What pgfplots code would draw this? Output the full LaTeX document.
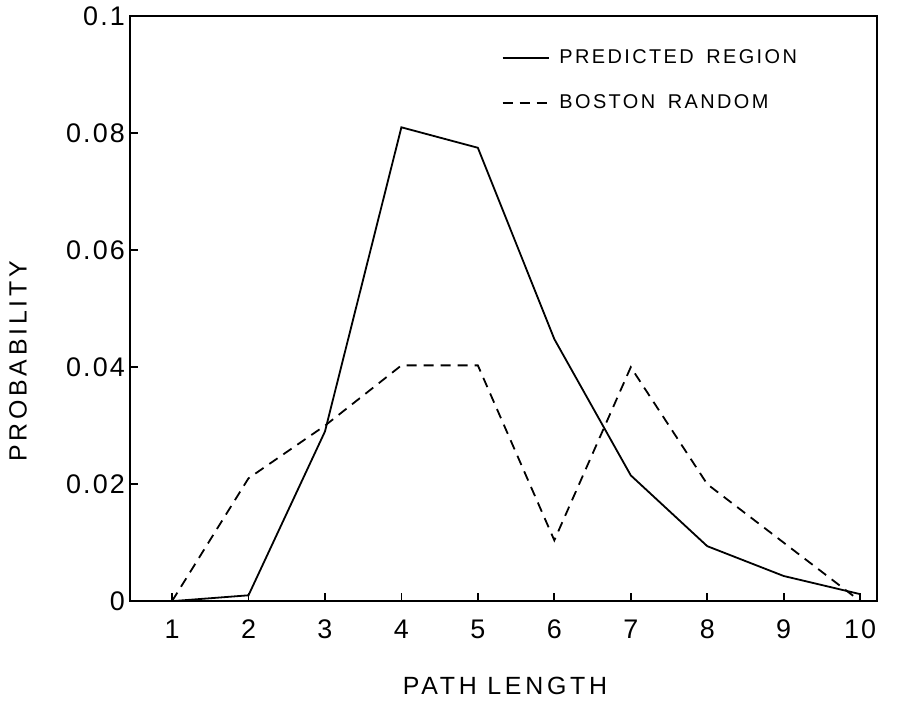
\documentclass[border=0pt]{standalone}
\usepackage{pgfplots}
\pgfplotsset{compat=1.18}
\usepackage{fontspec}
\setmainfont{Liberation Sans}
\newfontfamily\labfont[LetterSpace=15]{Liberation Sans}
\newfontfamily\legfont[LetterSpace=12,WordSpace=1.6]{Liberation Sans}
\newfontfamily\tickfont[LetterSpace=8]{Liberation Sans}
\begin{document}
\begin{tikzpicture}
\begin{axis}[
  scale only axis,
  width=373.5bp, height=292.5bp,
  xmin=0.45, xmax=10.22,
  ymin=0, ymax=0.1,
  xtick={1,...,10},
  ytick={0,0.02,0.04,0.06,0.08,0.1},
  yticklabels={0,0.02,0.04,0.06,0.08,0.1},
  xticklabels={1,2,3,4,5,6,7,8,9,10},
  /pgf/number format/assume math mode=true,
  tick align=inside,
  xtick pos=left, ytick pos=left,
  major tick length=4bp,
  tick style={black, line width=0.9bp},
  axis line style={line width=1.1bp},
  ticklabel style={font=\tickfont\fontsize{13.5}{15}\selectfont},
  xticklabel style={yshift=-6bp},
  yticklabel style={xshift=1bp},
  xlabel={PATH LENGTH},
  ylabel={PROBABILITY},
  label style={font=\labfont\fontsize{12.5}{14}\selectfont},
  xlabel style={at={(axis description cs:0.502,-0.145)}, anchor=center},
  ylabel style={at={(axis description cs:-0.15,0.41)}, anchor=center, rotate=0},
  legend style={draw=none, fill=none, at={(axis description cs:0.489,0.957)}, anchor=north west,
    font=\legfont\fontsize{10}{12}\selectfont, row sep=10bp,
    /tikz/every even column/.append style={column sep=0bp}},
  legend cell align=left,
  legend image code/.code={\draw[#1] (0bp,0bp) -- (23bp,0bp);},
  legend style={nodes={inner xsep=5bp}},
]
\addplot[black, line width=0.9bp] coordinates {
(1,0) (2,0.001) (3,0.029) (4,0.081) (5,0.0775) (6,0.0448) (7,0.0215) (8,0.0094) (9,0.0043) (10,0.0012)};
\addlegendentry{PREDICTED REGION}
\addplot[black, line width=0.9bp, dash pattern=on 5bp off 3.5bp] coordinates {
(1,0) (2,0.021) (3,0.030) (4,0.0403) (5,0.0403) (6,0.0104) (7,0.0400) (8,0.0200) (9,0.0100) (10,0)};
\addlegendentry{BOSTON RANDOM}
\coordinate (bl) at (rel axis cs:-0.174,-0.171);
\coordinate (tr) at (rel axis cs:1.0268,1.0256);
\end{axis}
\path (bl) rectangle (tr);
\end{tikzpicture}
\end{document}
